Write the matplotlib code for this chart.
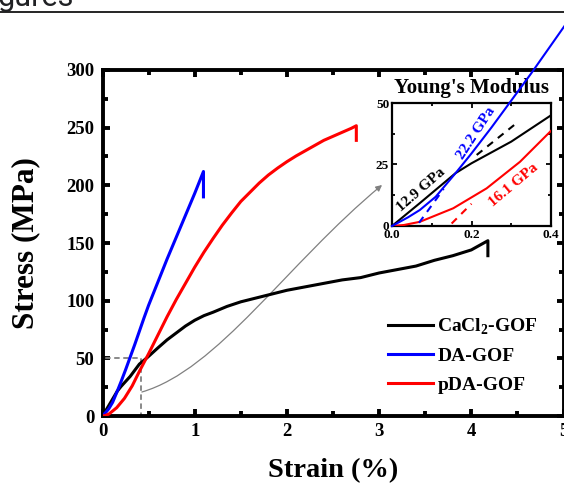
import numpy as np
import matplotlib
matplotlib.use("Agg")
import matplotlib.pyplot as plt
from matplotlib.path import Path
from matplotlib.patches import FancyArrowPatch
from matplotlib.ticker import MultipleLocator

plt.rcParams['font.family'] = ['Liberation Serif', 'DejaVu Serif']
plt.rcParams['font.weight'] = 'bold'
plt.rcParams['mathtext.fontset'] = 'custom'
plt.rcParams['mathtext.rm'] = 'Liberation Serif:bold'
plt.rcParams['mathtext.bf'] = 'Liberation Serif:bold'

# -----------------------------
# DATA
# -----------------------------
strain_ca = [0, 0.07, 0.16, 0.2, 0.3, 0.4, 0.49, 0.6, 0.7, 0.8, 0.9, 1.0, 1.1, 1.2,
             1.35, 1.5, 1.65, 1.8, 2.0, 2.2, 2.4, 2.6, 2.8, 3.0, 3.2, 3.4, 3.6,
             3.8, 4.0, 4.18, 4.18]
stress_ca = [0, 9.3, 21.5, 25.5, 34.3, 45, 51, 59, 66, 72, 78, 83, 87, 90,
             95, 99, 102, 105, 109, 112, 115, 118, 120, 124, 127, 130, 135,
             139, 144, 152, 139]

strain_da = [0, 0.04, 0.07, 0.11, 0.16, 0.2, 0.25, 0.3, 0.35, 0.4, 0.45, 0.5,
             0.6, 0.7, 0.8, 0.9, 1.0, 1.095, 1.095]
stress_da = [0, 3.5, 6.5, 11.9, 21.5, 29.5, 40, 51, 62, 73.5, 85, 96,
             116, 136, 155, 174, 193, 212, 190]

strain_pda = [0, 0.03, 0.07, 0.154, 0.238, 0.322, 0.402, 0.5, 0.6, 0.7, 0.8, 0.9,
              1.0, 1.1, 1.2, 1.3, 1.4, 1.5, 1.6, 1.7, 1.8, 1.9, 2.0, 2.1, 2.2,
              2.3, 2.4, 2.5, 2.6, 2.7, 2.753, 2.753]
stress_pda = [0, 0.4, 1.7, 7.2, 15.3, 26.1, 39, 54, 70, 86, 101, 115,
              129, 142, 154, 165.5, 176, 186, 194, 202, 209, 215, 220.5, 225.5, 230,
              234.5, 239, 242.5, 246, 249.5, 251.7, 239]

labels = ['CaCl$_2$-GOF', 'DA-GOF', 'pDA-GOF']
colors = ['black', 'blue', 'red']

# linear fits shown in the inset (x range, slope in MPa/%, intercept)
fit_x = [(0.213, 0.318), (0.068, 0.13), (0.15, 0.20)]
fit_slope = [129, 222, 161]
fit_icpt = [1.4, -13.8, -23.15]
moduli = ['12.9 GPa', '22.2 GPa', '16.1 GPa']
mod_pos = [(0.072, 14.8), (0.213, 37.7), (0.305, 16.7)]
mod_rot = [41, 57, 40]

# -----------------------------
# FIGURE
# -----------------------------
fig = plt.figure(figsize=(5.64, 4.86), dpi=100)

# bits of the page around the figure
fig.text(-0.004, 1 - 6 / 486, 'gures', fontsize=22, family='Roboto',
         weight='normal', color='#202124', va='baseline', ha='left')
fig.add_artist(plt.Line2D([0, 1], [1 - 12 / 486, 1 - 12 / 486], color='black', lw=1.2))

ax = fig.add_axes([102.5 / 564, 70 / 486, 461 / 564, 346 / 486])

for s, y, c, lab in zip([strain_ca, strain_da, strain_pda],
                        [stress_ca, stress_da, stress_pda], colors, labels):
    ax.plot(s, y, color=c, lw=2.2, label=lab, zorder=3)

# dashed zoom box
ax.plot([0, 0.42, 0.42, 0, 0], [0, 0, 50, 50, 0], ls='--', color='#808080',
        lw=1.3, dashes=(3, 2), zorder=2, clip_on=False)

# curved arrow to the inset
verts = [(0.427, 20.8), (1.25, 40.0), (2.0, 132.0), (3.032, 200.3)]
arrow = FancyArrowPatch(path=Path(verts, [Path.MOVETO, Path.CURVE4, Path.CURVE4, Path.CURVE4]),
                        arrowstyle='-|>', mutation_scale=9, color='#808080', lw=0.9,
                        transform=ax.transData)
ax.add_patch(arrow)

ax.set_xlim(0, 5)
ax.set_ylim(0, 300)
ax.xaxis.set_major_locator(MultipleLocator(1))
ax.xaxis.set_minor_locator(MultipleLocator(0.5))
ax.yaxis.set_major_locator(MultipleLocator(50))
ax.yaxis.set_minor_locator(MultipleLocator(25))
ax.tick_params(which='both', direction='in', top=True, right=True, width=2.8)
ax.tick_params(which='major', length=5, labelsize=13.5, pad=5)
ax.tick_params(which='minor', length=3.5)
ax.tick_params(axis='y', which='major', pad=6)
for sp in ax.spines.values():
    sp.set_linewidth(2.8)

ax.set_xlabel('Strain (%)', fontsize=20.5, fontweight='bold')
ax.set_ylabel('Stress (MPa)', fontsize=22.5, fontweight='bold')
ax.xaxis.set_label_coords(0.5, -0.122)
ax.yaxis.set_label_coords(-0.136, 0.5)

ax.legend(loc='upper left', bbox_to_anchor=(0.619, 0.288), frameon=False,
          fontsize=14, borderpad=0, handlelength=2.3, handletextpad=0.25,
          labelspacing=0.56, borderaxespad=0)

# -----------------------------
# INSET
# -----------------------------
axi = fig.add_axes([392 / 564, (486 - 226) / 486, 159 / 564, 123 / 486])
axi.plot(strain_ca, stress_ca, color='black', lw=1.5, zorder=3)
axi.plot(strain_pda, stress_pda, color='red', lw=1.5, zorder=3)
da_x = [x for x in strain_da if x <= 0.45]
axi.plot(da_x, stress_da[:len(da_x)], color='blue', lw=1.5, zorder=6, clip_on=False)

for (x0, x1), m, b, c in zip(fit_x, fit_slope, fit_icpt, colors):
    axi.plot([x0, x1], [m * x0 + b, m * x1 + b], color=c, lw=1.5, ls='--',
             dashes=(3.5, 3), zorder=4)

for t, (x, y), r, c in zip(moduli, mod_pos, mod_rot, colors):
    axi.text(x, y, t, color=c, fontsize=11, rotation=r, ha='center', va='center',
             rotation_mode='anchor', zorder=5)

axi.text(0.5, 1.12, "Young's Modulus", transform=axi.transAxes, ha='center',
         va='center', fontsize=15, zorder=5)

axi.set_xlim(0, 0.4)
axi.set_ylim(0, 50)
axi.xaxis.set_major_locator(MultipleLocator(0.2))
axi.xaxis.set_minor_locator(MultipleLocator(0.1))
axi.yaxis.set_major_locator(MultipleLocator(25))
axi.yaxis.set_minor_locator(MultipleLocator(12.5))
axi.tick_params(which='both', direction='in', top=True, right=True, width=1.3)
axi.tick_params(which='major', length=3.5, labelsize=9.5, pad=2)
axi.tick_params(which='minor', length=2)
for sp in axi.spines.values():
    sp.set_linewidth(1.6)

fig.savefig('out.png', dpi=100)
